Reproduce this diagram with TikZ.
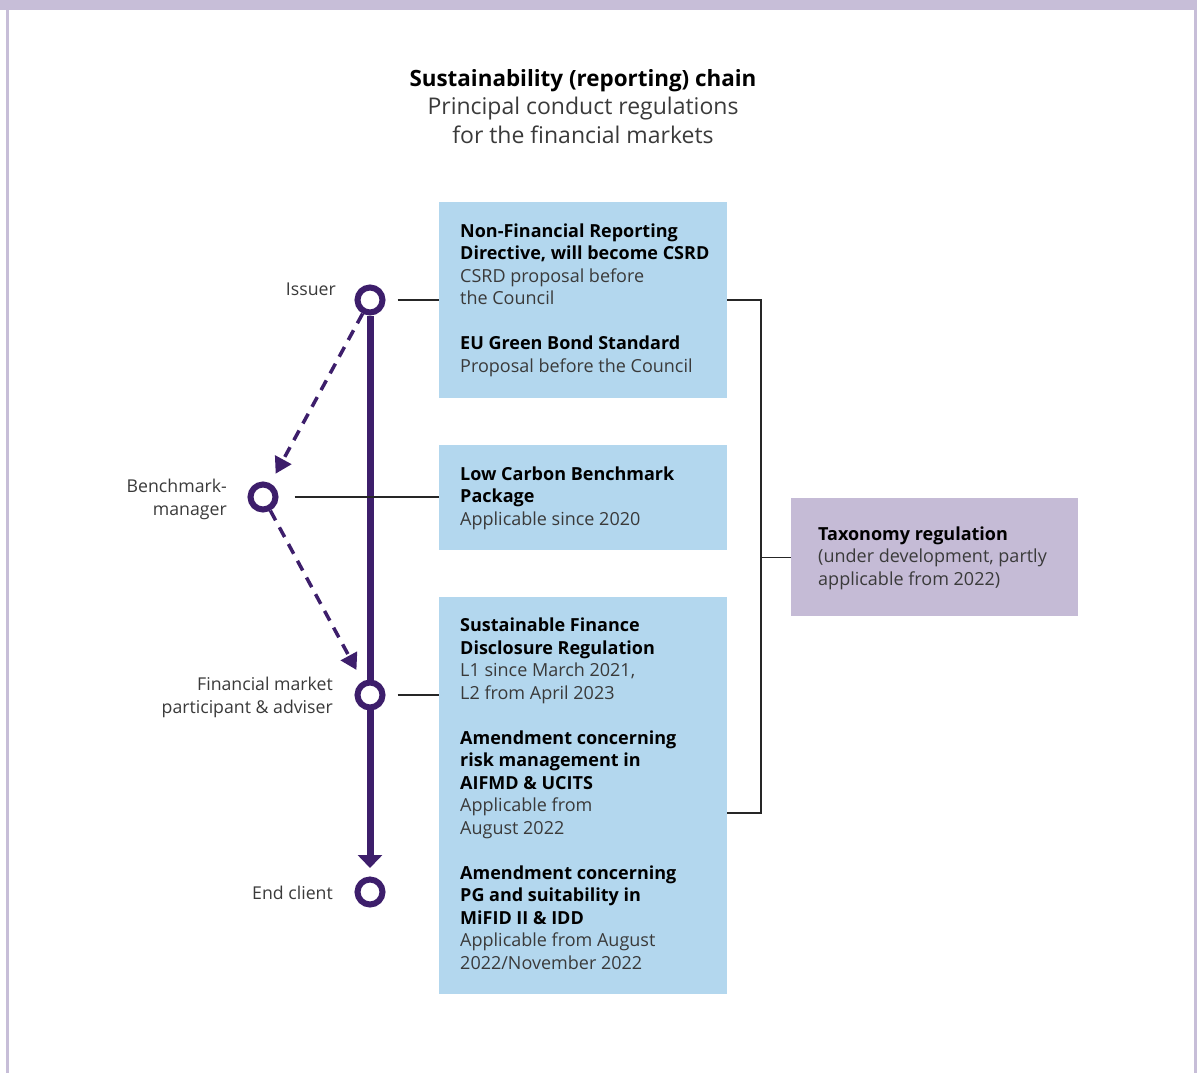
\documentclass[tikz,border=0pt]{standalone}
\usepackage{fontspec}
\setmainfont{Open Sans}
\usetikzlibrary{arrows.meta,backgrounds}
\definecolor{framecol}{HTML}{C7BED8}
\definecolor{boxblue}{HTML}{B3D7EE}
\definecolor{boxlav}{HTML}{C5BBD6}
\definecolor{chainpurple}{HTML}{3D1E6B}
\definecolor{txtgray}{HTML}{3A3A3A}
\newcommand\boxhead[1]{{\bfseries\color{black}#1}}
\tikzset{
  bluebox/.style={fill=boxblue, draw=none, anchor=north west, inner sep=0, minimum width=288},
  lavbox/.style={fill=boxlav, draw=none, anchor=north west, inner sep=0},
  boxtext/.style={anchor=base west, align=left, inner sep=0, text=txtgray, font=\fontsize{18}{22.5}\selectfont},
  sidelabel/.style={anchor=base east, align=right, inner sep=0, text=txtgray, font=\fontsize{17.7}{22.5}\selectfont},
  ring/.style={circle, draw=chainpurple, line width=6pt, fill=white, minimum size=25, inner sep=0},
  mainline/.style={draw=chainpurple, line width=7pt, -{Triangle[width=24pt,length=13pt]}},
  dasharrow/.style={draw=chainpurple, line width=3.5pt, dash pattern=on 11pt off 8pt, -{Triangle[width=18pt,length=16pt]}},
  connector/.style={draw=black!85, line width=1.2pt},
}
\begin{document}
\begin{tikzpicture}[x=1pt,y=-1pt]
\useasboundingbox (0,0) rectangle (1197,1073);
% frame
\fill[framecol] (0,0) rectangle (1197,10);
\fill[framecol] (6,10) rectangle (8.5,1073);
\fill[framecol] (1194,10) rectangle (1196.5,1073);
% title (base anchor = last line baseline)
\node[anchor=base, inner sep=0, font=\bfseries\fontsize{22.4}{26}\selectfont] (title) at (583,86) {Sustainability (reporting) chain};
\node[anchor=base, align=center, inner sep=0, text=txtgray, font=\fontsize{23}{29}\selectfont] (subtitle) at (583,143) {Principal conduct regulations\\for the financial markets};
% boxes
\node[bluebox, minimum height=196] (box1) at (439,202) {};
\node[bluebox, minimum height=105] (box2) at (439,445) {};
\node[bluebox, minimum height=397] (box3) at (439,597) {};
\node[lavbox, minimum width=287, minimum height=118] (tax) at (791,498) {};
% box texts
\node[boxtext] (t1) at (460,372) {\boxhead{Non-Financial Reporting}\\\boxhead{Directive, will become CSRD}\\CSRD proposal before\\the Council\\[22.5pt]\boxhead{EU Green Bond Standard}\\Proposal before the Council};
\node[boxtext] (t2) at (460,525) {\boxhead{Low Carbon Benchmark}\\\boxhead{Package}\\Applicable since 2020};
\node[boxtext] (t3) at (460,969) {\boxhead{Sustainable Finance}\\\boxhead{Disclosure Regulation}\\L1 since March 2021,\\L2 from April 2023\\[22.5pt]\boxhead{Amendment concerning}\\\boxhead{risk management in}\\\boxhead{AIFMD \& UCITS}\\Applicable from\\August 2022\\[22.5pt]\boxhead{Amendment concerning}\\\boxhead{PG and suitability in}\\\boxhead{MiFID II \& IDD}\\Applicable from August\\2022/November 2022};
\node[boxtext] (t4) at (818,585) {\boxhead{Taxonomy regulation}\\(under development, partly\\applicable from 2022)};
% chain circles
\node[ring] (issuer) at (370,300) {};
\node[ring] (bench) at (263,497) {};
\node[ring] (fmp) at (370,695) {};
\node[ring] (endc) at (370,892) {};
% labels
\node[sidelabel] (lissuer) at (336,295) {Issuer};
\node[sidelabel] (lbench) at (227,515) {Benchmark-\\manager};
\node[sidelabel] (lfmp) at (333,713) {Financial market\\participant \& adviser};
\node[sidelabel] (lendc) at (333,899) {End client};
% main chain line
\begin{pgfonlayer}{background}
\draw[mainline, shorten >=8.5pt] (issuer.south) -- (endc.north);
\end{pgfonlayer}
% dashed arrows
\draw[dasharrow, shorten >=11pt] (issuer) -- (bench);
\draw[dasharrow, shorten >=13pt] (bench) -- (fmp);
% connectors to boxes
\draw[connector, shorten <=12pt] (issuer.east) -- (issuer.east -| box1.west);
\draw[connector, shorten <=16pt] (bench.east) -- (bench.east -| box2.west);
\draw[connector, shorten <=12pt] (fmp.east) -- (fmp.east -| box3.west);
% bracket
\coordinate (brtop) at (761,300);
\coordinate (brbot) at (761,813);
\draw[connector] (issuer -| box1.east) -- (brtop) -- (brbot) -- (brbot -| box3.east);
\draw[connector] (tax.west -| brtop) -- (tax.west);
\end{tikzpicture}
\end{document}
